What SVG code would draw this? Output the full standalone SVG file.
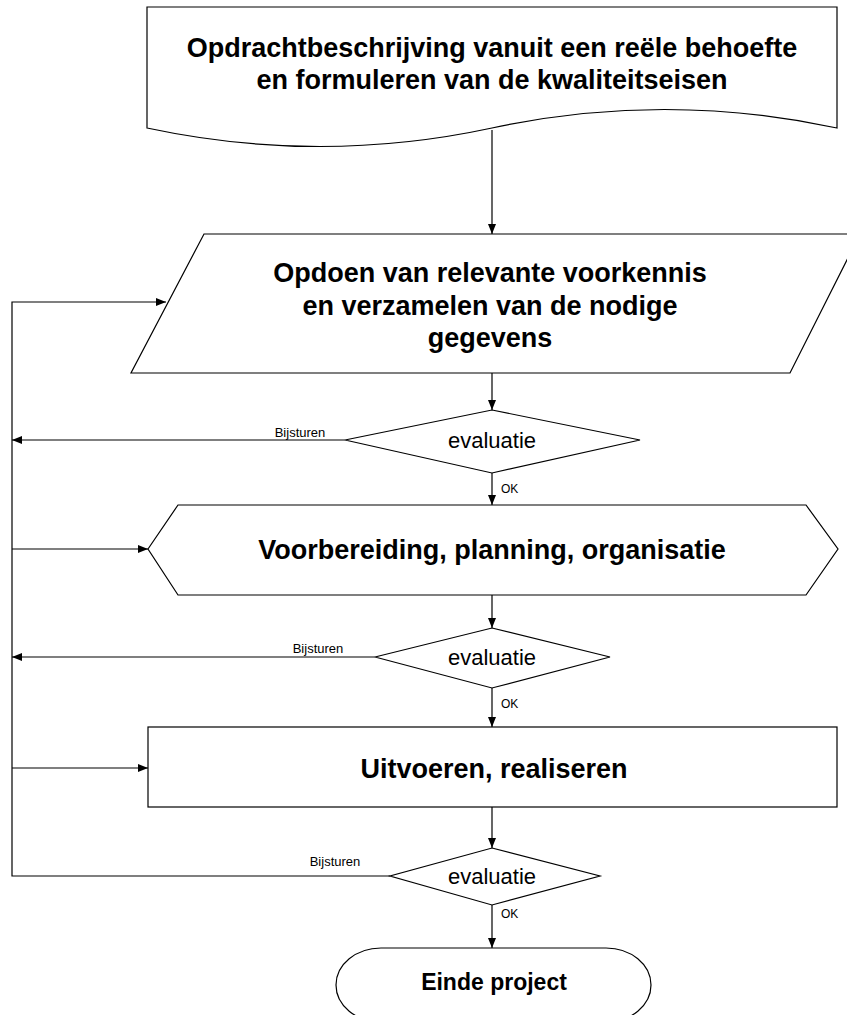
<svg xmlns="http://www.w3.org/2000/svg" width="847" height="1015" viewBox="0 0 847 1015">
<defs>
<style>
.s{fill:#fff;stroke:#000;stroke-width:1.2}
.c{fill:none;stroke:#000;stroke-width:1.2}
.b{font-family:"Liberation Sans",Arial,sans-serif;font-weight:bold;font-size:27px;text-anchor:middle;fill:#000}
.e{font-family:"Liberation Sans",Arial,sans-serif;font-size:22px;text-anchor:middle;fill:#000}
.l{font-family:"Liberation Sans",Arial,sans-serif;font-size:12px;fill:#000}
.m{font-family:"Liberation Sans",Arial,sans-serif;font-size:13px;text-anchor:middle;fill:#000}
</style>
<marker id="a" markerWidth="10" markerHeight="8" refX="10" refY="4" orient="auto" markerUnits="userSpaceOnUse">
<path d="M0,0 L10,4 L0,8 Z" fill="#000"/>
</marker>
</defs>
<rect width="847" height="1015" fill="#fff"/>
<g id="connectors">
<line class="c" x1="492" y1="130" x2="492" y2="234" marker-end="url(#a)"/>
<line class="c" x1="492" y1="373" x2="492" y2="410" marker-end="url(#a)"/>
<line class="c" x1="492" y1="473" x2="492" y2="505" marker-end="url(#a)"/>
<line class="c" x1="492" y1="595" x2="492" y2="628" marker-end="url(#a)"/>
<line class="c" x1="492" y1="688" x2="492" y2="727" marker-end="url(#a)"/>
<line class="c" x1="492" y1="807" x2="492" y2="848" marker-end="url(#a)"/>
<line class="c" x1="492" y1="905" x2="492" y2="948" marker-end="url(#a)"/>
<line class="c" x1="345" y1="440" x2="12" y2="440" marker-end="url(#a)"/>
<line class="c" x1="375" y1="657" x2="12" y2="657" marker-end="url(#a)"/>
<polyline class="c" points="390,876 12,876 12,302 166,302" marker-end="url(#a)"/>
<line class="c" x1="12" y1="549" x2="148" y2="549" marker-end="url(#a)"/>
<line class="c" x1="12" y1="768" x2="148" y2="768" marker-end="url(#a)"/>
<text class="m" x="300" y="437">Bijsturen</text>
<text class="m" x="318" y="653">Bijsturen</text>
<text class="m" x="335" y="866">Bijsturen</text>
<text class="l" x="501" y="493">OK</text>
<text class="l" x="501" y="708">OK</text>
<text class="l" x="501" y="918">OK</text>
</g>
<g id="n1">
<path class="s" d="M147,7 H837 V128 Q664,91 492,128 T147,128 Z"/>
<text class="b" x="492" y="57">Opdrachtbeschrijving vanuit een reële behoefte</text>
<text class="b" x="492" y="89">en formuleren van de kwaliteitseisen</text>
</g>
<g id="n2">
<path class="s" d="M204,234 H860 L790,373 H131 Z"/>
<text class="b" x="490" y="282">Opdoen van relevante voorkennis</text>
<text class="b" x="490" y="315">en verzamelen van de nodige</text>
<text class="b" x="490" y="347">gegevens</text>
</g>
<g id="d1">
<polygon class="s" points="492,410 640,440 492,473 345,440"/>
<text class="e" x="492" y="448">evaluatie</text>
</g>
<g id="n3">
<polygon class="s" points="148,549 178,505 806,505 838,549 806,595 178,595"/>
<text class="b" x="492" y="559">Voorbereiding, planning, organisatie</text>
</g>
<g id="d2">
<polygon class="s" points="492,628 610,657 492,688 375,657"/>
<text class="e" x="492" y="665">evaluatie</text>
</g>
<g id="n4">
<rect class="s" x="148" y="727" width="689" height="80"/>
<text class="b" x="494" y="778">Uitvoeren, realiseren</text>
</g>
<g id="d3">
<polygon class="s" points="492,848 600,876 492,905 390,876"/>
<text class="e" x="492" y="884">evaluatie</text>
</g>
<g id="n5">
<path class="s" d="M381,948 H606 A45,37 0 0 1 606,1022 H381 A45,37 0 0 1 381,948 Z"/>
<text class="b" x="494" y="990" style="font-size:23px">Einde project</text>
</g>
</svg>
